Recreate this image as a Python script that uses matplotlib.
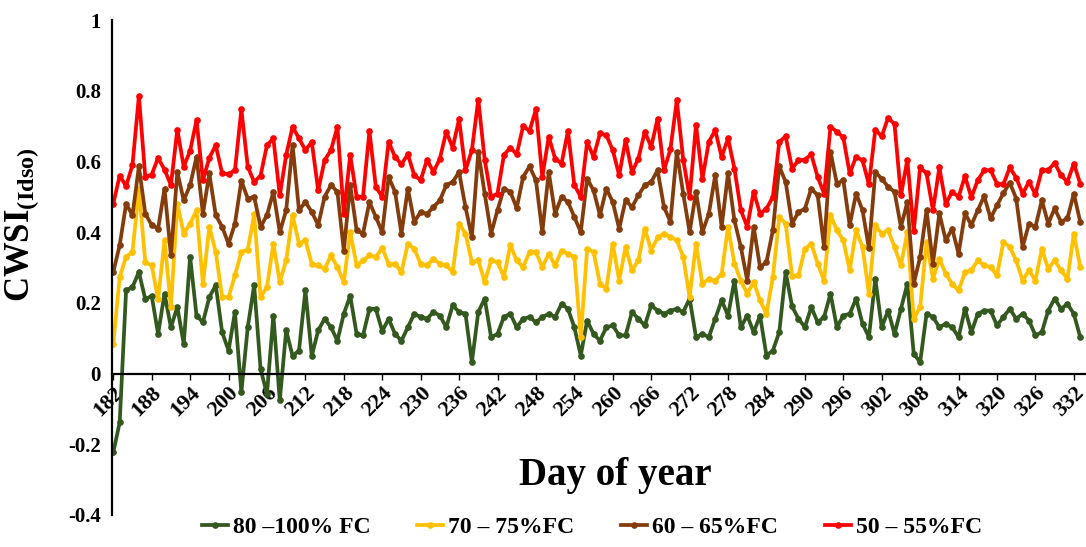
import matplotlib
matplotlib.use('Agg')
import matplotlib.pyplot as plt
import numpy as np

# %% data
days = list(range(182, 334))

red_50_55 = [
    0.48, 0.56, 0.53, 0.59, 0.785, 0.556, 0.563, 0.61, 0.577, 0.533, 0.69, 0.585, 0.63, 0.717, 0.547, 0.61, 0.646, 0.566, 0.564, 0.575, 0.747, 0.585,
    0.542, 0.56, 0.646, 0.665, 0.504, 0.618, 0.698, 0.665, 0.632, 0.655, 0.518, 0.603, 0.632, 0.698, 0.452, 0.618, 0.5, 0.5, 0.686, 0.528, 0.5,
    0.655, 0.613, 0.592, 0.62, 0.561, 0.547, 0.605, 0.57, 0.608, 0.684, 0.639, 0.719, 0.575, 0.632, 0.775, 0.605, 0.5, 0.509, 0.618, 0.639, 0.62,
    0.7, 0.686, 0.747, 0.556, 0.67, 0.608, 0.594, 0.686, 0.533, 0.5, 0.655, 0.613, 0.679, 0.674, 0.632, 0.561, 0.66, 0.57, 0.608, 0.684, 0.641, 0.721,
    0.575, 0.634, 0.773, 0.605, 0.5, 0.703, 0.551, 0.655, 0.688, 0.613, 0.665, 0.58, 0.462, 0.415, 0.514, 0.452, 0.466, 0.5, 0.655, 0.671, 0.58,
    0.603, 0.605, 0.62, 0.556, 0.509, 0.698, 0.684, 0.668, 0.566, 0.613, 0.603, 0.535, 0.69, 0.671, 0.724, 0.705, 0.504, 0.605, 0.403, 0.583, 0.566,
    0.462, 0.583, 0.48, 0.514, 0.5, 0.558, 0.498, 0.547, 0.575, 0.575, 0.537, 0.535, 0.583, 0.554, 0.509, 0.542, 0.507, 0.575, 0.575, 0.596, 0.561, 0.542, 0.594, 0.537,
]

brown_60_65 = [
    0.287, 0.363, 0.48, 0.448, 0.586, 0.452, 0.42, 0.41, 0.523, 0.334, 0.57, 0.49, 0.533, 0.613, 0.452, 0.566, 0.448, 0.415, 0.367, 0.424, 0.545, 0.495,
    0.5, 0.415, 0.448, 0.514, 0.4, 0.462, 0.646, 0.462, 0.485, 0.457, 0.42, 0.5, 0.533, 0.514, 0.348, 0.533, 0.405, 0.396, 0.485, 0.443, 0.4,
    0.556, 0.514, 0.396, 0.523, 0.429, 0.457, 0.452, 0.471, 0.49, 0.533, 0.542, 0.57, 0.471, 0.386, 0.627, 0.509, 0.396, 0.462, 0.523, 0.514, 0.468,
    0.556, 0.586, 0.547, 0.4, 0.57, 0.452, 0.5, 0.485, 0.443, 0.4, 0.551, 0.518, 0.448, 0.523, 0.485, 0.41, 0.49, 0.471, 0.504, 0.533, 0.542, 0.575,
    0.471, 0.429, 0.627, 0.509, 0.4, 0.514, 0.4, 0.452, 0.561, 0.415, 0.566, 0.433, 0.358, 0.263, 0.415, 0.301, 0.315, 0.405, 0.586, 0.542, 0.424,
    0.457, 0.466, 0.523, 0.504, 0.358, 0.627, 0.537, 0.547, 0.42, 0.509, 0.462, 0.354, 0.57, 0.551, 0.528, 0.514, 0.415, 0.485, 0.254, 0.33, 0.462,
    0.311, 0.453, 0.377, 0.41, 0.339, 0.453, 0.42, 0.462, 0.502, 0.439, 0.476, 0.51, 0.54, 0.495, 0.358, 0.424, 0.415, 0.49, 0.424, 0.467, 0.429, 0.439, 0.509, 0.429,
]

yellow_70_75 = [
    0.084, 0.273, 0.33, 0.344, 0.523, 0.315, 0.306, 0.21, 0.377, 0.188, 0.48, 0.396, 0.424, 0.462, 0.254, 0.415, 0.344, 0.216, 0.216, 0.278, 0.344, 0.35,
    0.45, 0.216, 0.245, 0.367, 0.259, 0.32, 0.448, 0.367, 0.377, 0.31, 0.306, 0.296, 0.334, 0.301, 0.259, 0.4, 0.306, 0.32, 0.334, 0.33, 0.355,
    0.31, 0.31, 0.287, 0.367, 0.353, 0.31, 0.306, 0.325, 0.31, 0.306, 0.287, 0.424, 0.396, 0.315, 0.32, 0.259, 0.32, 0.315, 0.273, 0.363, 0.32,
    0.301, 0.344, 0.344, 0.301, 0.339, 0.306, 0.348, 0.339, 0.33, 0.103, 0.353, 0.344, 0.254, 0.24, 0.367, 0.263, 0.358, 0.292, 0.32, 0.41, 0.348, 0.385,
    0.396, 0.386, 0.377, 0.33, 0.216, 0.367, 0.254, 0.268, 0.263, 0.282, 0.415, 0.311, 0.263, 0.226, 0.259, 0.207, 0.169, 0.273, 0.443, 0.424, 0.275,
    0.278, 0.353, 0.367, 0.311, 0.263, 0.448, 0.405, 0.377, 0.292, 0.405, 0.358, 0.226, 0.419, 0.396, 0.405, 0.358, 0.306, 0.4, 0.155, 0.188, 0.372,
    0.268, 0.325, 0.282, 0.254, 0.235, 0.287, 0.292, 0.32, 0.306, 0.301, 0.278, 0.372, 0.358, 0.32, 0.263, 0.292, 0.263, 0.353, 0.296, 0.32, 0.292, 0.268, 0.396, 0.301,
]

green_80_100 = [
    -0.223, -0.138, 0.235, 0.245, 0.287, 0.21, 0.22, 0.112, 0.226, 0.131, 0.188, 0.084, 0.33, 0.164, 0.145, 0.216, 0.25, 0.117, 0.065, 0.174, -0.053, 0.131,
    0.25, 0.013, -0.058, 0.164, -0.076, 0.122, 0.05, 0.065, 0.235, 0.05, 0.122, 0.155, 0.131, 0.093, 0.169, 0.22, 0.112, 0.108, 0.183, 0.183, 0.12,
    0.155, 0.112, 0.093, 0.131, 0.169, 0.16, 0.155, 0.174, 0.164, 0.131, 0.193, 0.174, 0.169, 0.032, 0.174, 0.212, 0.103, 0.112, 0.16, 0.169, 0.131,
    0.155, 0.16, 0.145, 0.16, 0.169, 0.16, 0.197, 0.183, 0.131, 0.051, 0.15, 0.112, 0.093, 0.131, 0.136, 0.108, 0.108, 0.174, 0.155, 0.136, 0.193, 0.178,
    0.169, 0.178, 0.183, 0.174, 0.212, 0.103, 0.112, 0.103, 0.155, 0.207, 0.164, 0.263, 0.131, 0.164, 0.117, 0.164, 0.051, 0.065, 0.117, 0.287, 0.19,
    0.155, 0.131, 0.188, 0.145, 0.16, 0.226, 0.131, 0.164, 0.169, 0.212, 0.141, 0.103, 0.268, 0.131, 0.178, 0.112, 0.183, 0.254, 0.056, 0.032, 0.169,
    0.16, 0.131, 0.141, 0.131, 0.103, 0.183, 0.117, 0.169, 0.178, 0.178, 0.136, 0.16, 0.183, 0.155, 0.169, 0.15, 0.108, 0.117, 0.178, 0.212, 0.183, 0.197, 0.169, 0.103,
]

series_labels = ['80 \u2013100% FC', '70 \u2013 75%FC', '60 \u2013 65%FC', '50 \u2013 55%FC']
series_colors = ['#33591f', '#FFC000', '#843C0C', '#FF0000']
x_tick_days = list(range(182, 334, 6))
y_ticks = [-0.4, -0.2, 0, 0.2, 0.4, 0.6, 0.8, 1]
y_tick_labels = ['-0.4', '-0.2', '0', '0.2', '0.4', '0.6', '0.8', '1']

# %% style
plt.rcParams['font.family'] = ['Liberation Serif', 'DejaVu Serif']
plt.rcParams['font.weight'] = 'bold'
plt.rcParams['mathtext.fontset'] = 'custom'
plt.rcParams['mathtext.rm'] = 'Liberation Serif:bold'
plt.rcParams['mathtext.bf'] = 'Liberation Serif:bold'
plt.rcParams['mathtext.it'] = 'Liberation Serif:bold'

fig = plt.figure(figsize=(10.86, 5.47), dpi=100)
ax = fig.add_axes([112 / 1086, 1 - 515 / 547, 1 - 112 / 1086, (515 - 20) / 547])

all_series = [green_80_100, yellow_70_75, brown_60_65, red_50_55]
for vals, lab, col in zip(all_series, series_labels, series_colors):
    ax.plot(days, vals, color=col, lw=2.7, marker='o', ms=3.8, label=lab)

ax.set_xlim(181.8, 333.9)
ax.set_ylim(-0.4, 1)

ax.spines['top'].set_visible(False)
ax.spines['right'].set_visible(False)
ax.spines['bottom'].set_position(('data', 0))
ax.spines['bottom'].set_linewidth(1.6)
ax.spines['left'].set_linewidth(1.6)

ax.set_yticks(y_ticks)
ax.set_yticklabels(y_tick_labels, fontsize=15, fontweight='bold')
ax.tick_params(axis='y', length=0, pad=8)

ax.set_xticks(x_tick_days)
ax.set_xticklabels([str(d) for d in x_tick_days], rotation=45, ha='right',
                   rotation_mode='anchor', fontsize=16, fontweight='bold')
ax.tick_params(axis='x', length=4, width=1, direction='out', pad=3)

fig.text(615 / 1086, 1 - 476 / 547, 'Day of year', ha='center', va='center',
         fontsize=28, fontweight='bold')
fig.text(22 / 1086, 1 - 225 / 547, r'$\mathbf{CWSI_{(Idso)}}$', rotation=90,
         ha='center', va='center', fontsize=25)

fig.legend(loc='center', bbox_to_anchor=(592 / 1086, 1 - 527 / 547), ncol=4,
           frameon=False, handlelength=1.1, handletextpad=0.2,
           columnspacing=2.0, prop={'weight': 'bold', 'size': 17})

fig.savefig('out.png', dpi=100)
